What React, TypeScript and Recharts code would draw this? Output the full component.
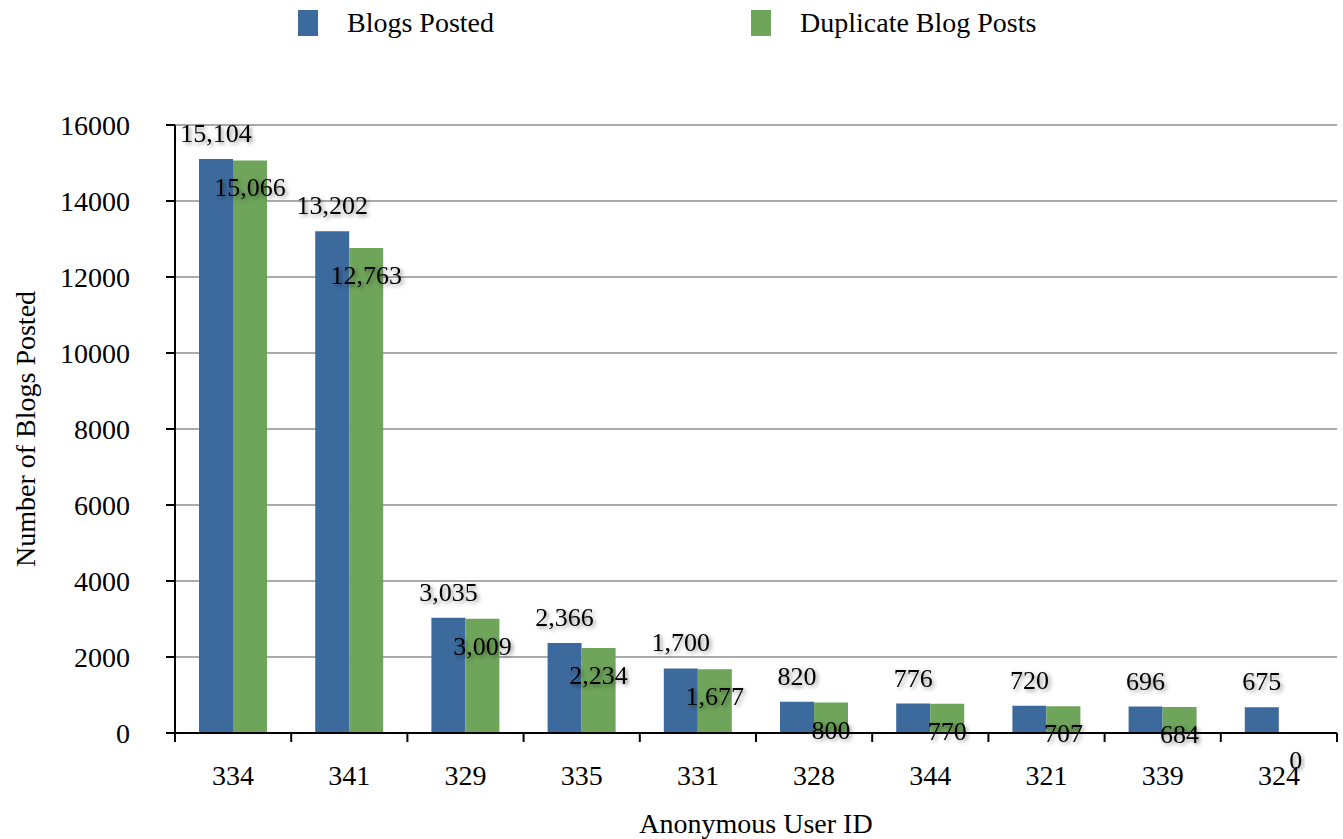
import React from 'react'
import { BarChart, Bar, XAxis, YAxis, CartesianGrid, LabelList } from 'recharts'

const userIds = ['334', '341', '329', '335', '331', '328', '344', '321', '339', '324']
const blogsPosted = [15104, 13202, 3035, 2366, 1700, 820, 776, 720, 696, 675]
const duplicatePosts = [15066, 12763, 3009, 2234, 1677, 800, 770, 707, 684, 0]
const yTicks = [0, 2000, 4000, 6000, 8000, 10000, 12000, 14000, 16000]
const seriesNames = ['Blogs Posted', 'Duplicate Blog Posts']

const BLUE = '#3c6a9c'
const GREEN = '#6ea55a'
const FONT = '"Liberation Serif", "Times New Roman", serif'

const data = userIds.map((id, i) => ({
  id,
  posted: blogsPosted[i],
  duplicate: duplicatePosts[i],
}))

const fmt = (v: number) => v.toLocaleString('en-US')

// x ticks sit on category boundaries, not centres
function XTick(props: any) {
  const { x, y, payload, index } = props
  const off = payload && payload.offset != null ? payload.offset : 58
  const last = index === userIds.length - 1
  return (
    <g>
      <line x1={x - off} x2={x - off} y1={y} y2={y + 9} stroke="#000" strokeWidth={2} />
      {last && <line x1={x + off} x2={x + off} y1={y} y2={y + 9} stroke="#000" strokeWidth={2} />}
      <text x={x} y={y + 52} textAnchor="middle" fontSize={28} fill="#000" fontFamily={FONT}>
        {payload.value}
      </text>
    </g>
  )
}

function makeLabel(dy: number) {
  return (props: any) => {
    const { x, y, width, height, value } = props
    // zero bars get a hair-thin height so their label still shows
    const top = Number(height) < 0.5 ? Number(y) + Number(height) : Number(y)
    return (
      <text
        x={Number(x) + Number(width) / 2}
        y={top + dy}
        textAnchor="middle"
        fontSize={26}
        fill="#000"
        fontFamily={FONT}
        filter="url(#lblShadow)"
      >
        {fmt(Number(value))}
      </text>
    )
  }
}

function Legendish() {
  const items = [
    { name: seriesNames[0], color: BLUE, left: 298 },
    { name: seriesNames[1], color: GREEN, left: 751 },
  ]
  return (
    <>
      {items.map((it) => (
        <div key={it.name} style={{ position: 'absolute', left: it.left, top: 10, display: 'flex', alignItems: 'center' }}>
          <div style={{ width: 20, height: 26, background: it.color }} />
          <span style={{ marginLeft: 29, fontSize: 28, lineHeight: '26px', color: '#000' }}>{it.name}</span>
        </div>
      ))}
    </>
  )
}

export default function App() {
  return (
    <div style={{ position: 'absolute', left: 0, top: 0, width: 1343, height: 839, fontFamily: FONT, background: '#fff' }}>
      <Legendish />
      <BarChart
        width={1343}
        height={839}
        data={data}
        margin={{ top: 125, right: 6, left: 0, bottom: 0 }}
        barCategoryGap={24}
        barGap={0}
      >
        <defs>
          <filter id="lblShadow" x="-20%" y="-30%" width="140%" height="160%">
            <feDropShadow dx="2" dy="2" stdDeviation="2" floodColor="#000" floodOpacity="0.45" />
          </filter>
        </defs>
        <CartesianGrid vertical={false} stroke="#aaaaaa" strokeWidth={2} />
        <XAxis
          dataKey="id"
          height={106}
          axisLine={{ stroke: '#000', strokeWidth: 2 }}
          tickLine={false}
          tickSize={0}
          tickMargin={0}
          tick={<XTick />}
          interval={0}
          label={{
            content: (p: any) => {
              const vb = p.viewBox || { x: 175, y: 733, width: 1162 }
              return (
                <text x={vb.x + vb.width / 2} y={vb.y + 100} textAnchor="middle" fontSize={28} fill="#000" fontFamily={FONT}>
                  Anonymous User ID
                </text>
              )
            },
          }}
        />
        <YAxis
          width={175}
          domain={[0, 16000]}
          ticks={yTicks}
          interval={0}
          axisLine={{ stroke: '#000', strokeWidth: 2 }}
          tickLine={{ stroke: '#000', strokeWidth: 2 }}
          tickSize={9}
          tickMargin={36}
          tick={{ fontSize: 28, fill: '#000', fontFamily: FONT }}
          label={{
            content: (p: any) => {
              const vb = p.viewBox || { x: 0, y: 125, height: 608 }
              const cx = 35
              const cy = vb.y + vb.height / 2
              return (
                <text x={cx} y={cy} transform={`rotate(-90 ${cx} ${cy})`} textAnchor="middle" fontSize={28} fill="#000" fontFamily={FONT}>
                  Number of Blogs Posted
                </text>
              )
            },
          }}
        />
        <Bar dataKey="posted" name={seriesNames[0]} fill={BLUE} isAnimationActive={false}>
          <LabelList dataKey="posted" content={makeLabel(-17)} />
        </Bar>
        <Bar
          dataKey="duplicate"
          name={seriesNames[1]}
          fill={GREEN}
          isAnimationActive={false}
          minPointSize={(v: number) => (v === 0 ? 0.01 : 0)}
        >
          <LabelList dataKey="duplicate" content={makeLabel(36)} />
        </Bar>
      </BarChart>
    </div>
  )
}
